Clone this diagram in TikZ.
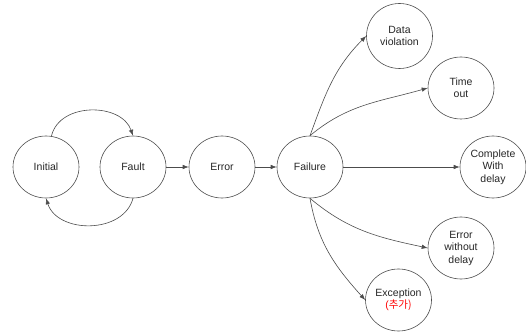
\documentclass[tikz,border=0pt]{standalone}
\usepackage{fontspec}
\setmainfont{Liberation Sans}
\newfontfamily\krfont{Noto Sans CJK KR}
\usetikzlibrary{shapes.geometric,arrows.meta}
\begin{document}
\begin{tikzpicture}[x=1pt,y=1pt,
  state/.style={draw=black!70,line width=0.6pt,ellipse,minimum width=66pt,minimum height=62pt,inner sep=0pt,
    align=center,font=\fontsize{10.5}{12.5}\selectfont,text=black!85},
  conn/.style={draw=black!70,line width=0.6pt,-{Latex[length=6pt,width=4.5pt]}}]
\useasboundingbox (0,0) rectangle (526,334);
\node[state] (ini) at (46,167) {Initial};
\node[state] (fau) at (133,167) {Fault};
\node[state] (err) at (222,167) {Error};
\node[state] (fai) at (310,167) {Failure};
\node[state,minimum height=65pt] (dat) at (399.5,298) {Data\\violation};
\node[state] (tim) at (461,246) {Time\\out};
\node[state] (com) at (493,167) {Complete\\With\\delay};
\node[state] (ewd) at (461,86) {Error\\without\\delay};
\node[state] (exc) at (398.5,34) {Exception\\{\color{red}(\krfont 추가)}};
\draw[conn] (ini.80) to[out=77,in=109,looseness=1.1] (fau.north);
\draw[conn] (fau.south) to[out=-105,in=-72,looseness=1.1] (ini.south);
\draw[conn] (fau.east) -- (err.west);
\draw[conn] (err.east) -- (fai.west);
\draw[conn] (fai.north) to[out=70,in=225] (dat.west);
\draw[conn] (fai.north) to[out=40,in=196] (tim.west);
\draw[conn] (fai.east) -- (com.west);
\draw[conn] (fai.south) to[out=-40,in=168] (ewd.west);
\draw[conn] (fai.south) to[out=-80,in=132] (exc.west);
\end{tikzpicture}
\end{document}
